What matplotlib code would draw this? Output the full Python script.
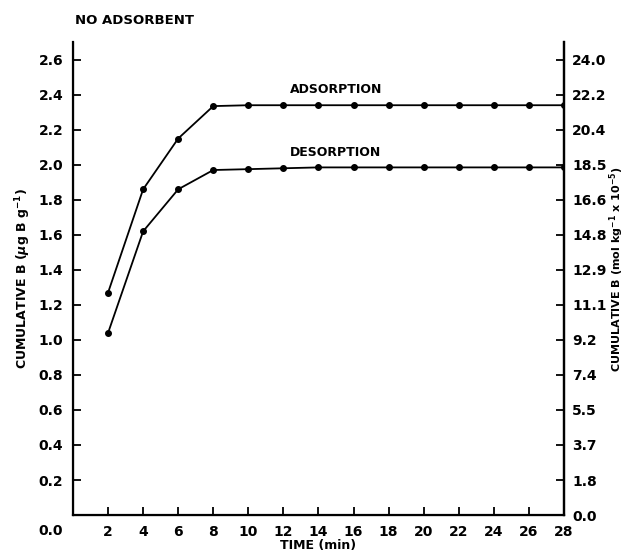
import matplotlib
matplotlib.use('Agg')
import matplotlib.pyplot as plt

plt.rcParams['font.family'] = ['DejaVu Sans']
plt.rcParams['font.weight'] = 'bold'

# Data
time_min = [2, 4, 6, 8, 10, 12, 14, 16, 18, 20, 22, 24, 26, 28]
adsorption = [1.27, 1.86, 2.15, 2.335, 2.34, 2.34, 2.34, 2.34, 2.34, 2.34, 2.34, 2.34, 2.34, 2.34]
desorption = [1.04, 1.62, 1.86, 1.97, 1.975, 1.98, 1.985, 1.985, 1.985, 1.985, 1.985, 1.985, 1.985, 1.985]

left_ticks = [0.0, 0.2, 0.4, 0.6, 0.8, 1.0, 1.2, 1.4, 1.6, 1.8, 2.0, 2.2, 2.4, 2.6]
right_labels = ['0.0', '1.8', '3.7', '5.5', '7.4', '9.2', '11.1', '12.9', '14.8',
                '16.6', '18.5', '20.4', '22.2', '24.0']
x_ticks = [2, 4, 6, 8, 10, 12, 14, 16, 18, 20, 22, 24, 26, 28]

fig = plt.figure(figsize=(6.31, 5.55), dpi=100)
ax = fig.add_axes([0.1157, 0.072, 0.778, 0.852])

ax.plot(time_min, adsorption, color='black', lw=1.3, marker='o', ms=4)
ax.plot(time_min, desorption, color='black', lw=1.3, marker='o', ms=4)

ax.set_xlim(0, 28)
ax.set_ylim(0, 2.7)

for side in ['left', 'bottom', 'right']:
    ax.spines[side].set_linewidth(1.6)
ax.spines['top'].set_visible(False)

ax.set_xticks(x_ticks)
ax.set_yticks(left_ticks)
ax.set_yticklabels([''] + [f'{v:.1f}' for v in left_ticks[1:]])
ax.tick_params(direction='in', length=6, width=1.3, labelsize=10, pad=7)

ax2 = ax.twinx()
ax2.set_ylim(ax.get_ylim())
ax2.set_yticks(left_ticks)
ax2.set_yticklabels(right_labels)
ax2.spines['top'].set_visible(False)
ax2.spines['right'].set_linewidth(1.6)
ax2.tick_params(direction='in', length=6, width=1.3, labelsize=10, pad=6)

# corner zero on the left, sits at x-tick label level
ax.text(-0.02, -0.034, '0.0', transform=ax.transAxes, ha='right', va='center',
        fontsize=10, fontweight='bold')

ax.text(15, 2.43, 'ADSORPTION', ha='center', va='center', fontsize=9, fontweight='bold')
ax.text(15, 2.07, 'DESORPTION', ha='center', va='center', fontsize=9, fontweight='bold')
fig.text(0.119, 0.963, 'NO ADSORBENT', ha='left', va='center', fontsize=9.5, fontweight='bold')

ax.set_xlabel('TIME (min)', fontsize=9, fontweight='bold', labelpad=0)
ax.set_ylabel(r'CUMULATIVE B ($\mu$g B g$^{-1}$)', fontsize=9, fontweight='bold', labelpad=4)
ax2.set_ylabel(r'CUMULATIVE B (mol kg$^{-1}$ x 10$^{-5}$)', fontsize=8, fontweight='bold')
ax2.yaxis.set_label_coords(1.088, 0.52)

fig.savefig('out.png', dpi=100)
